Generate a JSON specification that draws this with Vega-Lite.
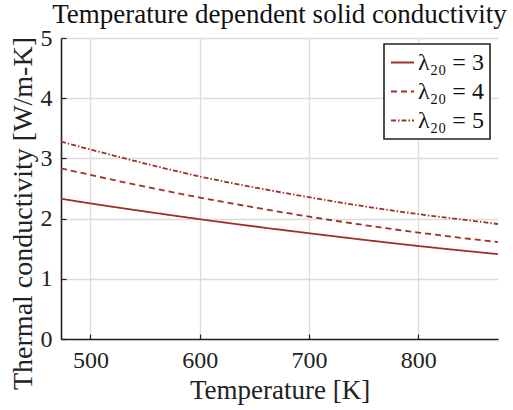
{
  "$schema": "https://vega.github.io/schema/vega-lite/v6.json",
  "width": 437,
  "height": 301,
  "autosize": {"type": "none"},
  "padding": {"left": 61, "top": 38, "right": 15, "bottom": 71},
  "background": "white",
  "title": {"text": "Temperature dependent solid conductivity", "font": "Liberation Serif", "fontSize": 27, "fontWeight": "normal", "color": "#111", "offset": -3, "anchor": "middle"},
  "config": {
    "view": {"stroke": null},
    "font": "Liberation Serif",
    "axis": {"labelFont": "Liberation Serif", "titleFont": "Liberation Serif"},
    "legend": {"strokeWidth": 1.6, "labelFont": "Liberation Serif"}
  },
  "data": {"values": [
    {"T": 473, "k": 2.33, "s": "λ₂₀ = 3"}, {"T": 500, "k": 2.252, "s": "λ₂₀ = 3"}, {"T": 550, "k": 2.118, "s": "λ₂₀ = 3"}, {"T": 600, "k": 1.99, "s": "λ₂₀ = 3"}, {"T": 650, "k": 1.87, "s": "λ₂₀ = 3"}, {"T": 700, "k": 1.757, "s": "λ₂₀ = 3"}, {"T": 750, "k": 1.648, "s": "λ₂₀ = 3"}, {"T": 800, "k": 1.545, "s": "λ₂₀ = 3"}, {"T": 850, "k": 1.451, "s": "λ₂₀ = 3"}, {"T": 873, "k": 1.41, "s": "λ₂₀ = 3"},
    {"T": 473, "k": 2.835, "s": "λ₂₀ = 4"}, {"T": 500, "k": 2.726, "s": "λ₂₀ = 4"}, {"T": 550, "k": 2.53, "s": "λ₂₀ = 4"}, {"T": 600, "k": 2.35, "s": "λ₂₀ = 4"}, {"T": 650, "k": 2.185, "s": "λ₂₀ = 4"}, {"T": 700, "k": 2.033, "s": "λ₂₀ = 4"}, {"T": 750, "k": 1.894, "s": "λ₂₀ = 4"}, {"T": 800, "k": 1.768, "s": "λ₂₀ = 4"}, {"T": 850, "k": 1.657, "s": "λ₂₀ = 4"}, {"T": 873, "k": 1.61, "s": "λ₂₀ = 4"},
    {"T": 473, "k": 3.28, "s": "λ₂₀ = 5"}, {"T": 500, "k": 3.148, "s": "λ₂₀ = 5"}, {"T": 550, "k": 2.915, "s": "λ₂₀ = 5"}, {"T": 600, "k": 2.70, "s": "λ₂₀ = 5"}, {"T": 650, "k": 2.518, "s": "λ₂₀ = 5"}, {"T": 700, "k": 2.355, "s": "λ₂₀ = 5"}, {"T": 750, "k": 2.205, "s": "λ₂₀ = 5"}, {"T": 800, "k": 2.075, "s": "λ₂₀ = 5"}, {"T": 850, "k": 1.962, "s": "λ₂₀ = 5"}, {"T": 873, "k": 1.91, "s": "λ₂₀ = 5"}
  ]},
  "mark": {"type": "line", "color": "#9E3029", "strokeWidth": 1.8, "interpolate": "monotone", "clip": true},
  "encoding": {
    "x": {"field": "T", "type": "quantitative",
      "scale": {"domain": [473, 873], "nice": false, "zero": false},
      "axis": {"values": [500, 600, 700, 800], "title": "Temperature [K]", "titleFont": "Liberation Serif", "titleFontSize": 27, "titleFontWeight": "normal", "titleColor": "#222", "titleBaseline": "alphabetic", "titleY": 59,
        "labelFont": "Liberation Serif", "labelFontSize": 24, "labelColor": "#222", "labelPadding": 14,
        "domainColor": "#222", "domainWidth": 1.6, "tickColor": "#222", "tickSize": -5, "tickWidth": 1.2,
        "grid": true, "gridColor": "#dcdcdc", "gridWidth": 1.3}},
    "y": {"field": "k", "type": "quantitative",
      "scale": {"domain": [0, 5], "nice": false},
      "axis": {"values": [0, 1, 2, 3, 4, 5], "title": "Thermal conductivity [W/m-K]", "titleFont": "Liberation Serif", "titleFontSize": 28, "titleFontWeight": "normal", "titleColor": "#222", "titleX": -24, "titleY": 175,
        "labelFont": "Liberation Serif", "labelFontSize": 24, "labelColor": "#222", "labelPadding": 14,
        "domainColor": "#222", "domainWidth": 1.6, "tickColor": "#222", "tickSize": -5, "tickWidth": 1.2,
        "grid": true, "gridColor": "#dcdcdc", "gridWidth": 1.3}},
    "strokeDash": {"field": "s", "type": "nominal",
      "scale": {"domain": ["λ₂₀ = 3", "λ₂₀ = 4", "λ₂₀ = 5"], "range": [[1, 0], [6, 4], [5, 2, 1.5, 2]]},
      "legend": {"orient": "none", "legendX": 323, "legendY": 6, "title": null,
        "strokeColor": "#222", "fillColor": "white", "padding": 6,
        "symbolType": "stroke", "symbolStrokeColor": "#9E3029", "symbolStrokeWidth": 1.8, "symbolSize": 530,
        "labelFont": "Liberation Serif", "labelFontSize": 24, "labelColor": "#111", "rowPadding": 4, "labelOffset": 3}}
  }
}
